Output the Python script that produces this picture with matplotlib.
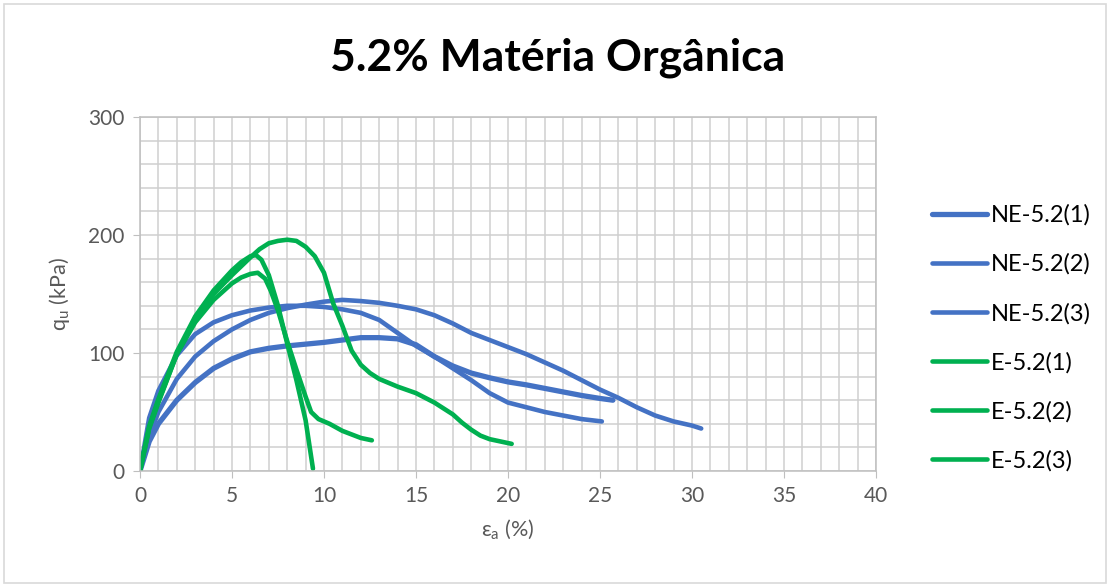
import numpy as np
import matplotlib
matplotlib.use("Agg")
import matplotlib.pyplot as plt
from matplotlib.ticker import MultipleLocator
from matplotlib.patches import Rectangle

plt.rcParams['font.family'] = ['Lato', 'DejaVu Sans']

# strain (%) and q_u (kPa)
ne1_e = [0, 0.5, 1, 2, 3, 4, 5, 6, 7, 8, 9, 10, 11, 12, 13, 14, 15, 16, 17, 18, 19, 20, 21, 22, 23, 24, 25, 25.7]
ne1_q = [0, 25, 40, 60, 75, 87, 95, 101, 104, 106, 107.5, 109, 111, 113, 113, 112, 107, 97, 89, 83, 79, 75.5, 73, 70, 67, 64, 61.5, 60]

ne2_e = [0, 0.5, 1, 2, 3, 4, 5, 6, 7, 8, 9, 10, 11, 12, 13, 14, 15, 16, 17, 18, 19, 20, 21, 22, 23, 24, 25.1]
ne2_q = [0, 45, 68, 98, 116, 126, 132, 136, 138.5, 140, 140, 139, 137, 134, 128, 117, 106, 97, 87, 77, 66, 58, 54, 50, 47, 44, 42]

ne3_e = [0, 0.5, 1, 2, 3, 4, 5, 6, 7, 8, 9, 10, 11, 12, 13, 14, 15, 16, 17, 18, 19, 20, 21, 22, 23, 24, 25, 26, 27, 28, 29, 30, 30.5]
ne3_q = [0, 30, 50, 78, 97, 110, 120, 128, 134, 138, 141, 143.5, 145, 144, 142.5, 140, 137, 132, 125, 117, 111, 105, 99, 92, 85, 77, 69, 62, 54, 47, 42, 38.5, 36]

e1_e = [0, 0.5, 1, 2, 3, 4, 5, 6, 6.5, 7, 7.5, 8, 8.5, 9, 9.5, 10, 10.5, 11, 11.5, 12, 12.5, 13, 14, 15, 16, 17, 17.5, 18, 18.5, 19, 19.6, 20.2]
e1_q = [0, 36, 58, 99, 128, 150, 166, 181, 188, 193, 195, 196, 195, 190, 182, 168, 142, 123, 102, 90, 83, 78, 71.5, 66, 58, 48, 41, 35, 30, 27, 25, 23]

e2_e = [0, 0.5, 1, 2, 3, 4, 5, 5.5, 6, 6.3, 6.6, 7, 7.5, 8, 8.5, 9, 9.4]
e2_q = [0, 38, 61, 101, 131, 153, 170, 177, 182, 183, 179, 166, 140, 108, 77, 43, 2]

e3_e = [0, 0.5, 1, 2, 3, 4, 5, 5.5, 6, 6.4, 6.8, 7.1, 7.5, 8, 8.5, 9, 9.3, 9.7, 10.3, 11, 11.5, 12, 12.6]
e3_q = [0, 37, 59, 99, 126, 145, 159, 164, 167, 168, 163, 153, 136, 110, 86, 63, 50, 44, 40, 34, 31, 28, 26]

series = [
    ('NE-5.2(1)', ne1_e, ne1_q, '#4472C4', 3.8),
    ('NE-5.2(2)', ne2_e, ne2_q, '#4472C4', 3.3),
    ('NE-5.2(3)', ne3_e, ne3_q, '#4472C4', 3.3),
    ('E-5.2(1)', e1_e, e1_q, '#00B050', 3.3),
    ('E-5.2(2)', e2_e, e2_q, '#00B050', 3.3),
    ('E-5.2(3)', e3_e, e3_q, '#00B050', 3.3),
]

fig = plt.figure(figsize=(11.1, 5.85), dpi=100)
fig.patches.append(Rectangle((0.004, 0.004), 0.992, 0.99, transform=fig.transFigure,
                             fill=False, edgecolor='#D9D9D9', linewidth=1.2))
ax = fig.add_axes([140/1110, 1 - 471/585, (876 - 140)/1110, (471 - 117)/585])

for name, x, y, c, lw in series:
    ax.plot(x, y, color=c, lw=lw, label=name, solid_capstyle='round', solid_joinstyle='round')

ax.set_xlim(0, 40)
ax.set_ylim(0, 300)
ax.xaxis.set_major_locator(MultipleLocator(5))
ax.xaxis.set_minor_locator(MultipleLocator(1))
ax.yaxis.set_major_locator(MultipleLocator(100))
ax.yaxis.set_minor_locator(MultipleLocator(20))
ax.grid(True, which='both', color='#CFCFCF', lw=1.1)
ax.set_axisbelow(True)
for s in ax.spines.values():
    s.set_color('#BFBFBF')
    s.set_linewidth(1.1)
ax.tick_params(which='minor', length=0)
ax.tick_params(which='major', length=5, color='#BFBFBF', labelcolor='#595959', labelsize=15, pad=6)

ax.set_xlabel('ε$_\\mathregular{a}$ (%)', color='#595959', fontsize=15.5, labelpad=8)
ax.set_ylabel('q$_\\mathregular{u}$ (kPa)', color='#595959', fontsize=15.5, labelpad=12)

fig.text(558/1110, 1 - 58/585, '5.2% Matéria Orgânica', ha='center', va='center',
         fontsize=32, fontweight='bold', color='black')

leg = ax.legend(loc='center left', bbox_to_anchor=(911/1110, 1 - 338/585), bbox_transform=fig.transFigure,
                frameon=False, fontsize=17, handlelength=2.3, handletextpad=0.2, labelspacing=1.17)
for t in leg.get_texts():
    t.set_color('#000000')

fig.savefig('out.png', dpi=100)
